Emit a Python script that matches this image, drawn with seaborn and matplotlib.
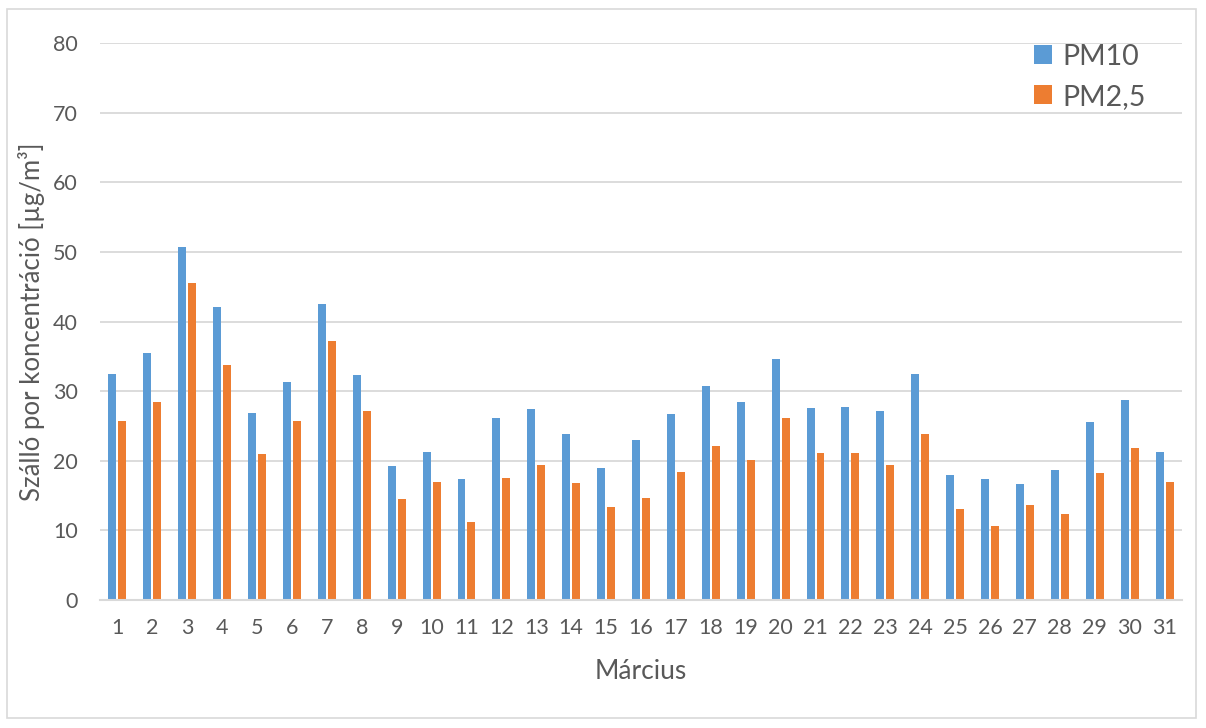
import numpy as np
import pandas as pd
import seaborn as sns
import matplotlib.pyplot as plt
from matplotlib.patches import Rectangle

days = list(range(1, 32))
pm10 = [32.4, 35.5, 50.7, 42.1, 26.9, 31.3, 42.5, 32.3, 19.3, 21.2, 17.4,
        26.1, 27.4, 23.8, 18.9, 23.0, 26.7, 30.8, 28.4, 34.6, 27.6,
        27.7, 27.1, 32.5, 18.0, 17.4, 16.7, 18.7, 25.6, 28.7, 21.3]
pm25 = [25.7, 28.4, 45.5, 33.7, 21.0, 25.7, 37.2, 27.2, 14.5, 17.0, 11.2,
        17.5, 19.4, 16.8, 13.4, 14.7, 18.4, 22.1, 20.1, 26.1, 21.1,
        21.1, 19.4, 23.8, 13.1, 10.6, 13.7, 12.3, 18.3, 21.9, 16.9]
series_names = ["PM10", "PM2,5"]
colors = ["#5B9BD5", "#ED7D31"]

df = pd.DataFrame({
    "day": [str(d) for d in days] * 2,
    "value": pm10 + pm25,
    "series": [series_names[0]] * len(days) + [series_names[1]] * len(days),
})

sns.set_theme(style="white")
plt.rcParams["font.family"] = ["Lato", "DejaVu Sans"]
text_color = "#595959"
grid_color = "#D9D9D9"

fig = plt.figure(figsize=(12.06, 7.28), dpi=100)
ax = fig.add_axes([100 / 1206, 1 - 600 / 728, 1082 / 1206, 557 / 728])

sns.barplot(data=df, x="day", y="value", hue="series", palette=colors,
            width=0.57, gap=0.2, ax=ax, saturation=1, linewidth=0)

ax.set_ylim(0, 80)
ax.set_yticks(np.arange(0, 81, 10))
ax.set_xlim(-0.5, len(days) - 0.5)
ax.yaxis.grid(True, color=grid_color, linewidth=1.3)
ax.set_axisbelow(True)
for side in ["top", "right", "left"]:
    ax.spines[side].set_visible(False)
ax.spines["bottom"].set_color(grid_color)
ax.spines["bottom"].set_linewidth(1.5)
ax.tick_params(axis="both", length=0, labelsize=15.5, colors=text_color)
ax.tick_params(axis="y", pad=16)
ax.tick_params(axis="x", pad=13)

ax.set_xlabel("Március", fontsize=19, color=text_color, labelpad=15)
ax.set_ylabel("Szálló por koncentráció [µg/m³]", fontsize=18.5,
              color=text_color, labelpad=6)

leg = ax.legend(loc="upper right", bbox_to_anchor=(0.99, 1.045), frameon=False,
                fontsize=20.5, handlelength=0.65, handleheight=0.65,
                handletextpad=0.35, labelspacing=0.5)
for t in leg.get_texts():
    t.set_color(text_color)

fig.patches.append(Rectangle((7 / 1206, 1 - 718 / 728), 1189 / 1206, 709 / 728,
                             transform=fig.transFigure, fill=False,
                             edgecolor=grid_color, linewidth=1.2))

fig.savefig("out.png", dpi=100, facecolor="white")
